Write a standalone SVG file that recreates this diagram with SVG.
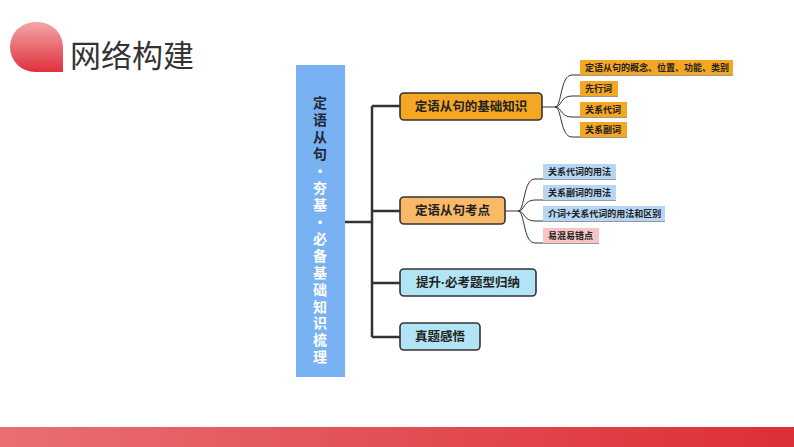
<svg xmlns="http://www.w3.org/2000/svg" width="794" height="447" viewBox="0 0 794 447">
<defs>
<linearGradient id="drop" x1="0" y1="0" x2="0" y2="1"><stop offset="0" stop-color="#F2A7A7"/><stop offset="1" stop-color="#E0303C"/></linearGradient>
<linearGradient id="bar" x1="0" y1="0" x2="1" y2="0"><stop offset="0" stop-color="#E86F72"/><stop offset="1" stop-color="#DD2F36"/></linearGradient>
</defs>
<style>
text{font-family:"Noto Sans CJK SC","Noto Sans",sans-serif;}
.node{stroke:#333;stroke-width:1.6;}
.nt{font-size:12.5px;font-weight:bold;fill:#222;text-anchor:middle;}
.lt{font-size:9px;font-weight:bold;fill:#222;}
.trunk{fill:none;stroke:#333;stroke-width:2.5;}
.thin{fill:none;stroke:#333;stroke-width:1;}
.vt{font-size:14px;font-weight:bold;writing-mode:vertical-rl;text-orientation:upright;letter-spacing:2.9px;}
.dk{fill:#1E2A3A;}
.wh{fill:#fff;}
.dot{font-family:"Liberation Sans",sans-serif;}
</style>
<rect width="794" height="447" fill="#fff"/>
<g id="title">
<path d="M35,22 L38,22 A25,25 0 0 1 63,47 L63,72 L35,72 A25,25 0 0 1 10,47 A25,25 0 0 1 35,22 Z" fill="url(#drop)"/>
<text x="70" y="67" font-size="31" fill="#333">网络构建</text>
</g>
<rect x="0" y="427" width="794" height="20" fill="url(#bar)"/>
<g id="connectors">
<path class="trunk" d="M345,222 H372 M372,106 V337 M372,106 H400 M372,211 H400 M372,283 H400 M372,337 H400"/>
<path class="thin" d="M542,107 H555 M555,107 C562,107 560,75 572,75 H733 M555,107 C562,107 560,96 572,96 H618 M555,107 C562,107 560,117 572,117 H627 M555,107 C562,107 560,137 572,137 H627"/>
<path class="thin" d="M505,211 H518 M518,211 C525,211 523,179 535,179 H616 M518,211 C525,211 523,200 535,200 H616 M518,211 C525,211 523,221 535,221 H665 M518,211 C525,211 523,243 535,243 H599"/>
</g>
<g id="root">
<rect x="296" y="65" width="49" height="312" fill="#78B2F2"/>
<text class="vt" x="320" y="96"><tspan class="dk">定语从句</tspan><tspan class="wh">·夯基·必备基础知识梳理</tspan></text>
</g>
<g id="n1"><rect class="node" x="400" y="93" width="142" height="27" rx="4" fill="#F5A623"/><text class="nt" x="471" y="111">定语从句的基础知识</text></g>
<g id="n2"><rect class="node" x="400" y="197" width="105" height="27" rx="4" fill="#F8B968"/><text class="nt" x="452.5" y="215">定语从句考点</text></g>
<g id="n3"><rect class="node" x="400" y="269" width="136" height="27" rx="4" fill="#B3E4F5"/><text class="nt" x="468" y="287">提升<tspan class="dot">·</tspan>必考题型归纳</text></g>
<g id="n4"><rect class="node" x="400" y="323" width="80" height="27" rx="4" fill="#B3E4F5"/><text class="nt" x="440" y="341">真题感悟</text></g>
<g id="l1a"><rect x="580" y="60" width="153" height="15" fill="#F5A623"/><text class="lt" x="585" y="71">定语从句的概念、位置、功能、类别</text></g>
<g id="l1b"><rect x="580" y="81" width="38" height="15" fill="#F5A623"/><text class="lt" x="585" y="92">先行词</text></g>
<g id="l1c"><rect x="580" y="102" width="47" height="15" fill="#F5A623"/><text class="lt" x="585" y="113">关系代词</text></g>
<g id="l1d"><rect x="580" y="122" width="47" height="15" fill="#F5A623"/><text class="lt" x="585" y="133">关系副词</text></g>
<g id="l2a"><rect x="543" y="164" width="73" height="15" fill="#B6D6F5"/><text class="lt" x="548" y="175">关系代词的用法</text></g>
<g id="l2b"><rect x="543" y="185" width="73" height="15" fill="#B6D6F5"/><text class="lt" x="548" y="196">关系副词的用法</text></g>
<g id="l2c"><rect x="543" y="206" width="122" height="15" fill="#B6D6F5"/><text class="lt" x="548" y="217">介词+关系代词的用法和区别</text></g>
<g id="l2d"><rect x="543" y="228" width="56" height="15" fill="#F7C5C5"/><text class="lt" x="548" y="239">易混易错点</text></g>
</svg>
